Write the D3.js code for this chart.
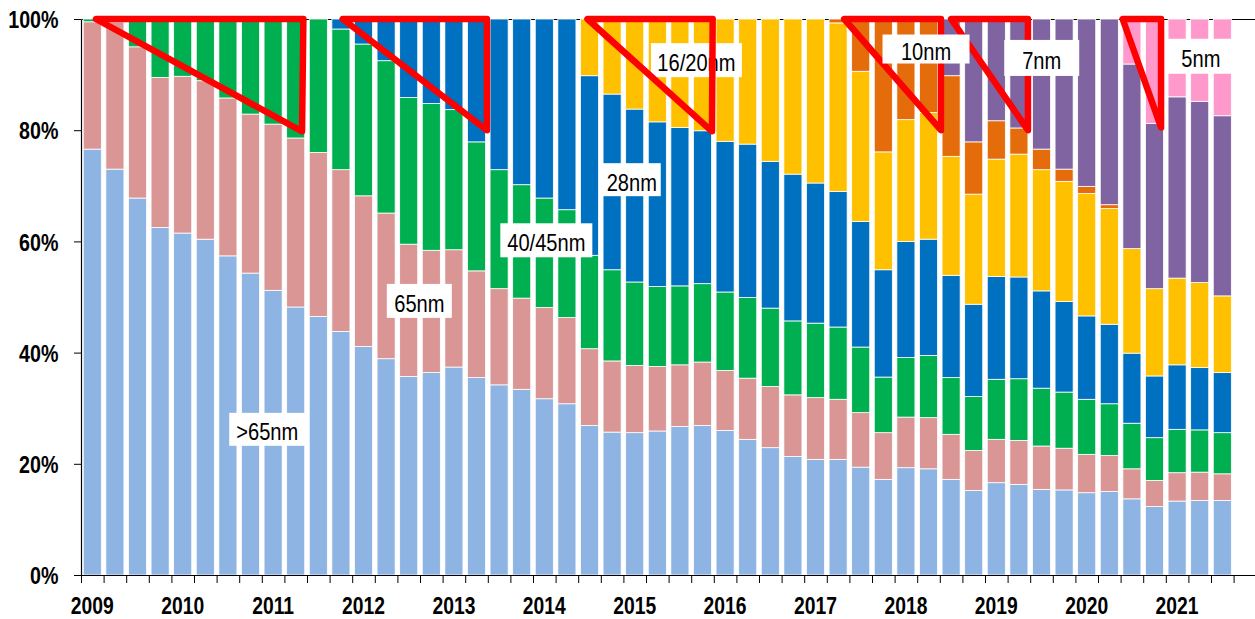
<!DOCTYPE html>
<html>
<head>
<meta charset="utf-8">
<script src="https://cdn.jsdelivr.net/npm/d3@7"></script>
<style>
  html, body { margin: 0; padding: 0; background: #fff; }
  svg { display: block; }
</style>
</head>
<body>
<div id="chart"></div>
<script>
// quarterly foundry revenue share by node, 2009Q1 .. 2021Q3 (2021Q4 slot is empty)
const years = d3.range(2009, 2022);
const categories = years.flatMap((yr) => ["Q1", "Q2", "Q3", "Q4"].map((q) => yr + q));

const nodes = [">65nm", "65nm", "40/45nm", "28nm", "16/20nm", "10nm", "7nm", "5nm"];

const gt65 = [76.6, 73.0, 67.8, 62.5, 61.5, 60.4, 57.4, 54.3, 51.2, 48.2, 46.5, 43.8, 41.1, 38.9, 35.7, 36.4, 37.4,
  35.5, 34.2, 33.4, 31.7, 30.8, 26.9, 25.7, 25.6, 25.9, 26.7, 26.9, 26.0, 24.4, 22.9, 21.3, 20.8, 20.8,
  19.4, 17.2, 19.3, 19.1, 17.2, 15.2, 16.6, 16.3, 15.4, 15.3, 14.8, 15.0, 13.7, 12.3, 13.3, 13.4, 13.4];
const n65 = [22.9, 26.5, 27.2, 27.0, 28.2, 28.5, 28.4, 28.6, 29.9, 30.4, 29.5, 29.1, 27.1, 26.2, 23.8, 22.0, 21.1,
  19.2, 17.3, 16.4, 16.4, 15.5, 13.8, 12.8, 12.1, 11.6, 11.1, 11.4, 10.8, 11.0, 11.0, 11.1, 11.1, 10.8,
  9.8, 8.4, 9.1, 9.2, 8.1, 7.2, 7.8, 7.9, 7.8, 7.5, 6.9, 6.5, 5.4, 4.7, 5.1, 5.1, 4.8];
const n40 = [0.5, 0.5, 5.0, 10.5, 10.3, 11.1, 14.2, 17.1, 18.9, 21.4, 24.0, 25.3, 27.3, 27.4, 26.4, 26.4, 25.2,
  23.2, 21.4, 20.4, 19.7, 19.4, 16.8, 16.4, 15.0, 14.4, 14.2, 14.1, 14.1, 14.5, 14.1, 13.3, 13.4, 13.0,
  11.8, 10.0, 10.7, 11.2, 10.2, 9.7, 10.8, 11.1, 10.4, 10.1, 9.9, 9.3, 8.2, 7.7, 7.8, 7.6, 7.4];
const n28 = [0, 0, 0, 0, 0, 0, 0, 0, 0, 0, 0, 1.8, 4.5, 7.5, 14.1, 15.2, 16.3,
  22.1, 27.1, 29.8, 32.2, 34.3, 32.3, 31.6, 31.1, 29.6, 28.5, 27.5, 27.1, 27.6, 26.4, 26.4, 25.2, 24.4,
  22.6, 19.3, 20.9, 20.9, 18.4, 16.6, 18.5, 18.3, 17.5, 16.3, 15.0, 14.3, 12.6, 11.1, 11.6, 11.2, 10.8];
const n16 = [0, 0, 0, 0, 0, 0, 0, 0, 0, 0, 0, 0, 0, 0, 0, 0, 0,
  0, 0, 0, 0, 0, 10.2, 13.5, 16.2, 18.5, 19.5, 20.1, 22.0, 22.5, 25.6, 27.9, 29.5, 30.3,
  27.0, 21.2, 21.9, 22.8, 21.4, 19.8, 21.1, 22.1, 21.8, 21.6, 22.0, 20.8, 18.8, 15.7, 15.6, 15.3, 13.8];
const n10 = [0, 0, 0, 0, 0, 0, 0, 0, 0, 0, 0, 0, 0, 0, 0, 0, 0,
  0, 0, 0, 0, 0, 0, 0, 0, 0, 0, 0, 0, 0, 0, 0, 0, 0.7,
  9.4, 23.9, 18.1, 16.8, 14.5, 9.4, 6.9, 4.7, 3.7, 2.2, 1.3, 0.7, 0, 0, 0, 0, 0];
const n7 = [0, 0, 0, 0, 0, 0, 0, 0, 0, 0, 0, 0, 0, 0, 0, 0, 0,
  0, 0, 0, 0, 0, 0, 0, 0, 0, 0, 0, 0, 0, 0, 0, 0, 0,
  0, 0, 0, 0, 10.2, 22.1, 18.3, 19.6, 23.4, 27.0, 30.1, 33.4, 33.2, 29.7, 32.6, 32.6, 32.4];
const n5 = [0, 0, 0, 0, 0, 0, 0, 0, 0, 0, 0, 0, 0, 0, 0, 0, 0,
  0, 0, 0, 0, 0, 0, 0, 0, 0, 0, 0, 0, 0, 0, 0, 0, 0,
  0, 0, 0, 0, 0, 0, 0, 0, 0, 0, 0, 0, 8.1, 18.8, 14.0, 14.8, 17.4];

const seriesValues = [gt65, n65, n40, n28, n16, n10, n7, n5];
const yTicks = [0, 0.2, 0.4, 0.6, 0.8, 1];

// callout labels: at = band position of box centre, pct = box centre
const labels = [
  { text: ">65nm", at: 8.24, pct: 26.2, w: 76, h: 33 },
  { text: "65nm", at: 14.97, pct: 49.3, w: 65, h: 34 },
  { text: "40/45nm", at: 20.59, pct: 60.2, w: 92, h: 34 },
  { text: "28nm", at: 24.37, pct: 71.1, w: 58, h: 33 },
  { text: "16/20nm", at: 27.23, pct: 92.6, w: 91, h: 34 },
  { text: "10nm", at: 37.39, pct: 94.6, w: 87, h: 29 },
  { text: "7nm", at: 42.51, pct: 93.0, w: 75, h: 36 },
  { text: "5nm", at: 49.55, pct: 93.3, w: 67, h: 35 }
];

// red triangles: [band position, pct] corners; "front" ones sit over the callouts
const triangles = [
  { pts: [[0.66, 100], [9.84, 100], [9.78, 79.8]], front: false },
  { pts: [[11.58, 100], [17.96, 100], [17.96, 80]], front: false },
  { pts: [[22.41, 100], [27.95, 100], [27.92, 79.8]], front: true },
  { pts: [[33.77, 100], [38.05, 100], [38.05, 80]], front: false },
  { pts: [[38.5, 100], [41.9, 100], [41.9, 80]], front: false },
  { pts: [[46.09, 100], [47.79, 100], [47.79, 80.5]], front: false }
];

const width = 1255;
const height = 619;
const margin = { top: 19, left: 81, bottom: 44 };
const step = 22.6;

const colors = {
  ">65nm": "#8DB4E2",
  "65nm": "#DA9694",
  "40/45nm": "#00B050",
  "28nm": "#0070C0",
  "16/20nm": "#FFC000",
  "10nm": "#E46C0A",
  "7nm": "#8064A2",
  "5nm": "#FF99CC"
};

const rows = gt65.map((_, i) => {
  const r = { q: categories[i] };
  nodes.forEach((k, j) => { r[k] = seriesValues[j][i]; });
  return r;
});

const svg = d3.select("#chart").append("svg")
  .attr("width", width)
  .attr("height", height);

const x = d3.scaleBand()
  .domain(categories)
  .range([margin.left, margin.left + categories.length * step])
  .paddingInner(0.2)
  .paddingOuter(0.1);

// continuous band-index scale for boundaries and annotations
const xi = d3.scaleLinear()
  .domain([0, categories.length])
  .range(x.range());

const y = d3.scaleLinear()
  .domain([0, 1])
  .range([height - margin.bottom, margin.top]);

const yp = (p) => y(p / 100);

// line along 100% (shows between bars)
svg.append("line")
  .attr("x1", margin.left + 0.5)
  .attr("x2", width)
  .attr("y1", y(1) + 0.5)
  .attr("y2", y(1) + 0.5)
  .attr("stroke", "#000")
  .attr("stroke-width", 1);

const series = d3.stack().keys(nodes).offset(d3.stackOffsetExpand)(rows);

svg.append("g")
  .selectAll("g")
  .data(series)
  .join("g")
  .attr("fill", (d) => colors[d.key])
  .selectAll("rect")
  .data((d) => d.filter((s) => s[1] - s[0] > 0))
  .join("rect")
  .attr("x", (d) => x(d.data.q))
  .attr("width", x.bandwidth())
  .attr("y", (d) => y(d[1]))
  .attr("height", (d) => y(d[0]) - y(d[1]))
  .attr("stroke", "#fff")
  .attr("stroke-width", 0.8);

// axes
const xAxis = svg.append("g")
  .attr("transform", "translate(0," + (height - margin.bottom) + ")")
  .call(d3.axisBottom(xi).tickValues(d3.range(categories.length)).tickFormat("").tickSizeInner(8).tickSizeOuter(0));
xAxis.select(".domain").attr("stroke-width", 1.2);

svg.append("g")
  .selectAll("text")
  .data(years)
  .join("text")
  .attr("transform", (d) => "translate(" + (x(d + "Q1") + x.bandwidth() / 2) + "," + (height - 5.2) + ") scale(0.84,1)")
  .attr("text-anchor", "middle")
  .style("font-family", "'Liberation Sans', Arial, sans-serif")
  .style("font-size", "23px")
  .style("font-weight", "bold")
  .text((d) => d);

const yAxis = svg.append("g")
  .attr("transform", "translate(" + margin.left + ",0)")
  .call(d3.axisLeft(y).tickValues(yTicks).tickFormat(d3.format(".0%")).tickSizeInner(7).tickSizeOuter(0));
yAxis.select(".domain").attr("stroke-width", 1.2);
yAxis.selectAll(".tick text")
  .attr("x", null)
  .attr("dy", null)
  .attr("transform", "translate(-22.5,8.6) scale(0.82,1)")
  .style("font-family", "'Liberation Sans', Arial, sans-serif")
  .style("font-size", "24px")
  .style("font-weight", "bold")
  .attr("fill", "#000");

// red triangles
const tri = d3.line()
  .x((d) => xi(d[0]))
  .y((d) => yp(d[1]));

function drawTriangles(list) {
  svg.append("g")
    .selectAll("path")
    .data(list)
    .join("path")
    .attr("d", (d) => tri(d.pts) + "Z")
    .attr("fill", "none")
    .attr("stroke", "#FF0000")
    .attr("stroke-width", 6.5)
    .attr("stroke-linejoin", "round");
}

drawTriangles(triangles.filter((t) => !t.front));

// callout boxes
const lab = svg.append("g")
  .selectAll("g")
  .data(labels)
  .join("g")
  .attr("transform", (d) => "translate(" + xi(d.at) + "," + yp(d.pct) + ")");

lab.append("rect")
  .attr("x", (d) => -d.w / 2)
  .attr("y", (d) => -d.h / 2)
  .attr("width", (d) => d.w)
  .attr("height", (d) => d.h)
  .attr("fill", "#fff");

lab.append("text")
  .attr("transform", "translate(0,11) scale(0.82,1)")
  .attr("text-anchor", "middle")
  .style("font-family", "'Liberation Sans', Arial, sans-serif")
  .style("font-size", "24.5px")
  .attr("fill", "#000")
  .text((d) => d.text);

drawTriangles(triangles.filter((t) => t.front));
</script>
</body>
</html>
